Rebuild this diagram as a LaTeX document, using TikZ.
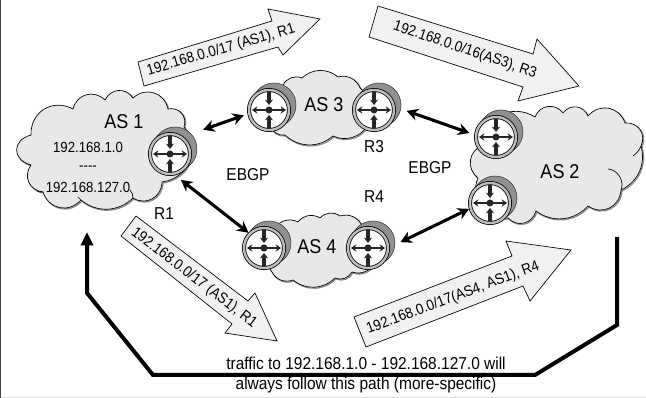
\documentclass[tikz,border=0pt]{standalone}
\usepackage{fontspec}
\setmainfont[FakeStretch=0.9]{Liberation Sans}
\usepackage{xcolor}
\usetikzlibrary{arrows.meta,calc}
\definecolor{cloudfill}{RGB}{232,232,232}
\definecolor{ringgray}{RGB}{190,190,190}
\definecolor{backgray}{RGB}{145,145,145}
\definecolor{edgegray}{RGB}{70,70,70}
\definecolor{bannerfill}{RGB}{241,241,241}
\tikzset{
  netcloud/.style={draw=black, line width=0.5pt, fill=cloudfill,
    preaction={draw=black!45, line width=1pt, transform canvas={shift={(0.7pt,-0.7pt)}}}},
  bump/.style={bend left=60, looseness=1.2},
  lowbump/.style={bend left=42, looseness=1},
  tailline/.style={draw=black, line width=0.5pt},
  routerbox/.style={circle, draw=black, line width=0.6pt, fill=white, inner sep=0pt, minimum size=30pt,
    double=ringgray, double distance=1.8pt},
  routerback/.style={draw=black!80, line width=0.4pt, fill=backgray},
  spokeout/.style={draw=black!85, line width=1.5pt, {Stealth[length=4pt,width=5.5pt]}-{Stealth[length=4pt,width=5.5pt]}},
  spokein/.style={draw=black!85, line width=2.4pt, -{Stealth[length=4pt,width=6pt]}},
  peering/.style={draw=black, line width=2.3pt, {Stealth[length=8.5pt,width=9pt]}-{Stealth[length=8.5pt,width=9pt]}},
  banner/.style={draw=black, line width=0.5pt, fill=bannerfill},
  bannertext/.style={font=\fontsize{11.3}{13}\selectfont, inner sep=0pt},
  smalllbl/.style={font=\fontsize{11}{13}\selectfont, inner sep=0pt},
  midlbl/.style={font=\fontsize{12.9}{15}\selectfont, inner sep=0pt},
  aslbl/.style={font=\fontsize{15}{17}\selectfont, inner sep=0pt},
  pathline/.style={draw=black, line width=3pt, miter limit=4, -{Triangle[length=10pt,width=9pt]}}
}
\newcommand{\router}[2]{
  \begin{scope}[shift={(#2)}]
    \draw[routerback] (5,-5) circle (22);
    \node[routerbox] (#1) at (0,0) {};
    \draw[spokeout] (-17,0) -- (17,0);
    \draw[spokein] (0,-18) -- (0,-5);
    \draw[spokein] (0,18) -- (0,5);
    \fill[black!85] (0,0) circle (3.5);
  \end{scope}
}
\begin{document}
\begin{tikzpicture}[x=0.75pt,y=-0.75pt]
  \useasboundingbox (0,0) rectangle (646,398);
  \fill[white] (0,0) rectangle (646,398);
  \fill[edgegray] (0,0) rectangle (1.3,398);
  \fill[black!12] (1.3,397) rectangle (646,398);

  % clouds
  \path[netcloud] (73,109) to[bump] (105,100) to[bump] (133,98) to[bump] (168,109) to[bump] (184,127)
    to[bump] (162,182) to[bump] (133,198) to[lowbump] (81,200) to[bump] (43,192) to[bump] (31,165)
    to[bend left=75, looseness=1.7] (31,135) to[bump] (73,109) -- cycle;
  \draw[tailline] (133,198) to[bend right=20] (130,190);
  \draw[tailline] (43,192) to[bend left=20] (37,191);
  \draw[tailline] (81,200) to[bend right=20] (78,197);

  \path[netcloud] (535,117) to[bump] (563,113) to[bump] (588,116) to[bump] (625,123) to[bump] (641,146)
    to[bend left=40] (621,190) to[bump] (588,206) to[lowbump] (536,211) to[bump] (508,218)
    to[bump] (478,178) to[bump] (483,145) to[bump] (535,117) -- cycle;
  \draw[tailline] (641,146) to[bend left=15] (633,156);
  \draw[tailline] (608,169) to[bend left=55] (621,190);

  \path[netcloud] (283,85) to[lowbump] (302,78) to[lowbump] (338,77) to[lowbump] (360,88)
    to[lowbump] (368,125) to[lowbump] (333,136) to[lowbump] (285,135) to[lowbump] (270,125) to[lowbump] (283,85) -- cycle;

  \path[netcloud] (275,228) to[lowbump] (298,222) to[lowbump] (320,218) to[lowbump] (340,216) to[lowbump] (362,226)
    to[lowbump] (375,262) to[lowbump] (352,272) to[lowbump] (335,278) to[lowbump] (293,280) to[lowbump] (272,272)
    to[lowbump] (275,228) -- cycle;

  % routers
  \router{rOne}{170,154}
  \router{rThreeL}{269,110}
  \router{rThreeR}{374,110}
  \router{rTwoT}{496,137}
  \router{rTwoB}{490,203}
  \router{rFourL}{264,248}
  \router{rFourR}{368,248}

  % EBGP sessions
  \draw[peering, shorten <=17pt, shorten >=4pt] (rOne.55) -- (rThreeL.190);
  \draw[peering, shorten <=10pt, shorten >=5pt] (rThreeR.10) -- (rTwoT.175);
  \draw[peering, shorten <=7pt, shorten >=1pt] (rOne.-80) -- (rFourL.135);
  \draw[peering, shorten <=10pt, shorten >=1pt] (rFourR.0) -- (rTwoB.195);

  % advertisements
  \draw[banner] (138,62) -- (272,21) -- (268,9) -- (320,19) -- (283,55) -- (278,47) -- (144,86) -- cycle;
  \node[bannertext, rotate=16.3] (advOne) at (221,50) {192.168.0.0/17 (AS1), R1};
  \draw[banner] (378,6) -- (533,54) -- (537,39) -- (579,86) -- (518,101) -- (523,87) -- (369,37) -- cycle;
  \node[bannertext, rotate=-18.6] (advTwo) at (465,50) {192.168.0.0/16(AS3), R3};
  \draw[banner] (136,216) -- (248,301) -- (255,293) -- (277,341) -- (225,333) -- (232,324) -- (121,236) -- cycle;
  \node[bannertext, rotate=-37.5] (advThree) at (194,278) {192.168.0.0/17 (AS1), R1};
  \draw[banner] (354,317) -- (512,256) -- (506,241) -- (571,250) -- (530,301) -- (523,286) -- (366,347) -- cycle;
  \node[bannertext, rotate=20.6] (advFour) at (453,298) {192.168.0.0/17(AS4, AS1), R4};

  % preferred path
  \coordinate (pathStart) at (617,237);
  \coordinate (pathA) at (617,325);
  \coordinate (pathB) at (535,375);
  \coordinate (pathC) at (153,375);
  \coordinate (pathD) at (87,293);
  \coordinate (pathEnd) at (87,232);
  \draw[pathline] (pathStart) -- (pathA) -- (pathB) -- (pathC) -- (pathD) -- (pathEnd);

  % labels
  \node[aslbl] (asOne) at (124,122) {AS 1};
  \node[aslbl] (asTwo) at (560,172) {AS 2};
  \node[aslbl] (asThree) at (324,105) {AS 3};
  \node[aslbl] (asFour) at (317,247) {AS 4};
  \node[smalllbl] (netLow) at (88,147) {192.168.1.0};
  \node[smalllbl] (netDots) at (88,168) {-{}-{}-{}-};
  \node[smalllbl] (netHigh) at (88,187) {192.168.127.0};
  \node[midlbl] (ebgpL) at (248,175) {EBGP};
  \node[midlbl] (ebgpR) at (430,168) {EBGP};
  \node[midlbl] (lblOne) at (164,214) {R1};
  \node[midlbl] (lblThree) at (374,147) {R3};
  \node[midlbl] (lblFour) at (374,197) {R4};
  \node[midlbl] (noteOne) at (366,363) {traffic to 192.168.1.0 - 192.168.127.0 will};
  \node[midlbl] (noteTwo) at (366,385) {always follow this path (more-specific)};
\end{tikzpicture}
\end{document}
